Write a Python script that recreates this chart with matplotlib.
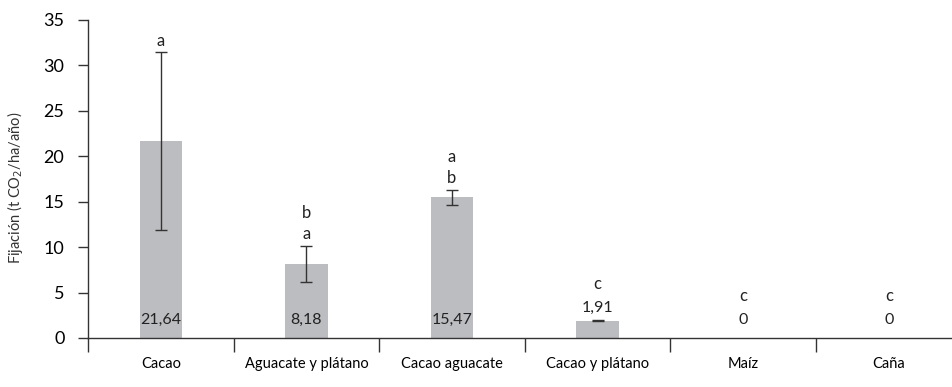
import numpy as np
import matplotlib
matplotlib.use("Agg")
import matplotlib.pyplot as plt

# Fijación de carbono por sistema de uso del suelo
categories = ["Cacao", "Aguacate y plátano", "Cacao aguacate",
              "Cacao y plátano", "Maíz", "Caña"]
fijacion = [21.64, 8.18, 15.47, 1.91, 0.0, 0.0]
desv = [9.8, 2.0, 0.83, 0.05, 0.0, 0.0]
value_labels = ["21,64", "8,18", "15,47", "1,91", "0", "0"]
letters = [["a"], ["a", "b"], ["b", "a"], ["c"], ["c"], ["c"]]  # bottom to top

plt.rcParams["font.family"] = ["Lato", "DejaVu Sans"]

bar_color = "#bcbdc0"
line_color = "#333333"

fig = plt.figure(figsize=(9.52, 3.87), dpi=100)
ax = fig.add_axes([88 / 952, 1 - 338 / 387, 873.6 / 952, 318 / 387])

x = np.arange(len(categories))
ax.bar(x, fijacion, width=0.29, color=bar_color, zorder=2)
has_err = [i for i, s in enumerate(desv) if s > 0]
ax.errorbar(x[has_err], [fijacion[i] for i in has_err],
            yerr=[desv[i] for i in has_err], fmt="none",
            ecolor=line_color, elinewidth=1, capsize=4, capthick=1, zorder=3)

for i, v in enumerate(fijacion):
    if v > 5:
        # value written inside the bar, letters above the error bar
        ax.text(i, 2.0, value_labels[i], ha="center", va="center",
                fontsize=11.5, color="#222222", zorder=4)
        base = v + desv[i] + 1.3
    else:
        lab_y = max(v + 1.4, 2.0)
        ax.text(i, lab_y, value_labels[i], ha="center", va="center",
                fontsize=11.5, color="#222222", zorder=4)
        base = lab_y + 2.6
    for k, letter in enumerate(letters[i]):
        ax.text(i, base + k * 2.3, letter, ha="center", va="center",
                fontsize=12, color="#222222")

ax.set_xlim(-0.5, len(categories) - 0.5)
ax.set_ylim(0, 35)
ax.set_yticks(np.arange(0, 36, 5))
ax.tick_params(axis="y", direction="out", length=7, width=1,
               color=line_color, labelsize=13, pad=10)

# group boundaries carry the tick marks, centers carry the names
ax.set_xticks(np.arange(-0.5, len(categories) - 0.5, 1))
ax.set_xticklabels([])
ax.set_xticks(x, minor=True)
ax.set_xticklabels(categories, minor=True)
ax.tick_params(axis="x", which="major", direction="out", length=10,
               width=1, color=line_color)
ax.tick_params(axis="x", which="minor", length=0, labelsize=10.5, pad=14)

for side in ["top", "right"]:
    ax.spines[side].set_visible(False)
for side in ["left", "bottom"]:
    ax.spines[side].set_color(line_color)
    ax.spines[side].set_linewidth(1)

fig.text(15 / 952, 1 - 188 / 387, "Fijación (t CO$_2$/ha/año)",
         rotation=90, ha="center", va="center", fontsize=10.5,
         color="#333333")

fig.savefig("out.png", dpi=100)
